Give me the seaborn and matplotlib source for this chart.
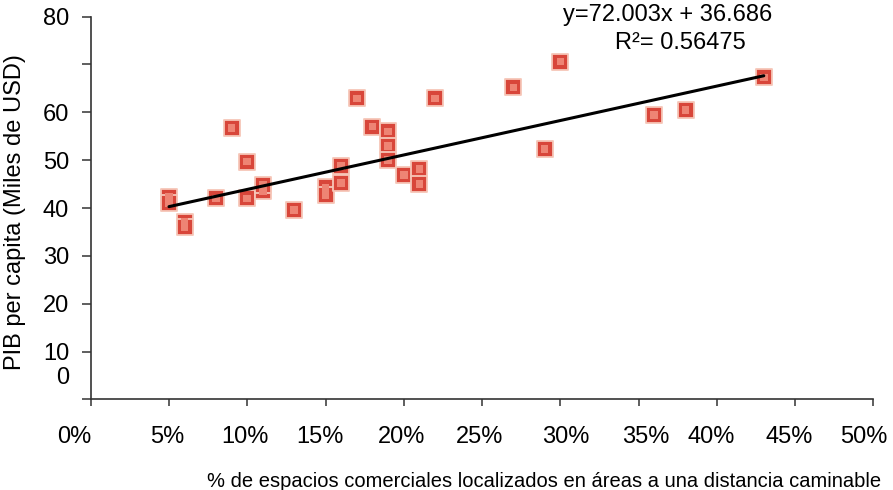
import matplotlib
matplotlib.use("Agg")
import matplotlib.pyplot as plt
import matplotlib.transforms as mtransforms
import seaborn as sns
import pandas as pd
import numpy as np

# Share of commercial space in walkable areas (fraction) and GDP per capita (thousand USD)
walkable_share = [0.05, 0.05, 0.06, 0.06, 0.08, 0.09, 0.10, 0.10, 0.11, 0.11,
                  0.13, 0.15, 0.15, 0.16, 0.16, 0.17, 0.18, 0.19, 0.19, 0.19,
                  0.20, 0.21, 0.21, 0.22, 0.27, 0.29, 0.30, 0.36, 0.38, 0.43]
gdp_per_capita = [42.3, 41.0, 37.1, 36.0, 42.0, 56.7, 49.7, 42.0, 43.5, 44.8,
                  39.6, 44.3, 42.7, 48.8, 45.2, 62.9, 57.0, 56.0, 53.0, 50.0,
                  46.9, 48.1, 45.0, 62.9, 65.2, 52.3, 70.6, 59.4, 60.5, 67.3]

# Linear trend line
slope = 72.003
intercept = 36.686
r_squared = 0.56475

x_ticks = [0.00, 0.05, 0.10, 0.15, 0.20, 0.25, 0.30, 0.35, 0.40, 0.45, 0.50]
x_tick_labels = ["0%", "5%", "10%", "15%", "20%", "25%", "30%", "35%", "40%", "45%", "50%"]
y_ticks = [0, 10, 20, 30, 40, 50, 60, 70, 80]
y_tick_labels = ["", "10", "20", "30", "40", "50", "60", "", "80"]

x_title = "% de espacios comerciales localizados en áreas a una distancia caminable"
y_title = "PIB per capita (Miles de USD)"

df = pd.DataFrame({"share": walkable_share, "gdp": gdp_per_capita})

sns.set_theme(style="white")
plt.rcParams["font.family"] = ["Liberation Sans", "DejaVu Sans"]
plt.rcParams["text.color"] = "black"
plt.rcParams["xtick.color"] = "black"
plt.rcParams["ytick.color"] = "black"
plt.rcParams["axes.labelcolor"] = "black"

fig = plt.figure(figsize=(8.93, 4.90), dpi=100)
ax = fig.add_axes([0.1016, 0.185, 0.8764, 0.781])

sns.scatterplot(data=df, x="share", y="gdp", ax=ax, marker="s", s=120,
                color="#d8463a", edgecolor="#f6c6b8", linewidth=1.3, legend=False,
                zorder=3)
sns.scatterplot(data=df, x="share", y="gdp", ax=ax, marker="s", s=30,
                color="#ee8474", edgecolor="none", legend=False, zorder=4)

x_line = np.array([min(walkable_share), max(walkable_share)])
ax.plot(x_line, slope * x_line + intercept, color="black", lw=2.2, zorder=5)

ax.set_xlim(0, 0.5)
ax.set_ylim(0, 80)
ax.set_xticks(x_ticks, x_tick_labels)
ax.set_yticks(y_ticks, y_tick_labels)

for side in ("top", "right"):
    ax.spines[side].set_visible(False)
for side in ("left", "bottom"):
    ax.spines[side].set_color("#333333")
    ax.spines[side].set_linewidth(1.2)

ax.tick_params(axis="y", direction="out", length=6.5, width=1.1, color="#333333",
               pad=9, labelsize=17, left=True, labelcolor="black")
ax.tick_params(axis="x", direction="out", length=5, width=1.1, color="#333333",
               pad=14, labelsize=17, bottom=True, labelcolor="black")

# small horizontal nudges of the percentage labels (pixels)
x_label_shift = [-16, -2, -2, -6, -2, -2, 5, 7, -6, -6, -10]
for lab, dx in zip(ax.get_xticklabels(), x_label_shift):
    lab.set_transform(lab.get_transform() +
                      mtransforms.ScaledTranslation(dx / 100, 0, fig.dpi_scale_trans))

# zero label sits a little above the origin
ax.annotate("0", xy=(0, 4.4), xycoords=("axes fraction", "data"),
            xytext=(-15.5, 0), textcoords="offset points",
            ha="right", va="center", fontsize=17, color="black")

ax.set_xlabel(x_title, fontsize=14.5)
ax.xaxis.set_label_coords(0.579, -0.19)
ax.set_ylabel(y_title, fontsize=17)
ax.yaxis.set_label_coords(-0.083, 0.49)

ax.text(0.7377, 1.004, f"y={slope:.3f}x + {intercept:.3f}", transform=ax.transAxes,
        ha="center", va="center", fontsize=17)
ax.text(0.7534, 0.931, f"R\u00b2= {r_squared:.5f}", transform=ax.transAxes,
        ha="center", va="center", fontsize=17)

ax.grid(False)
fig.savefig("out.png", dpi=100, facecolor="white")
